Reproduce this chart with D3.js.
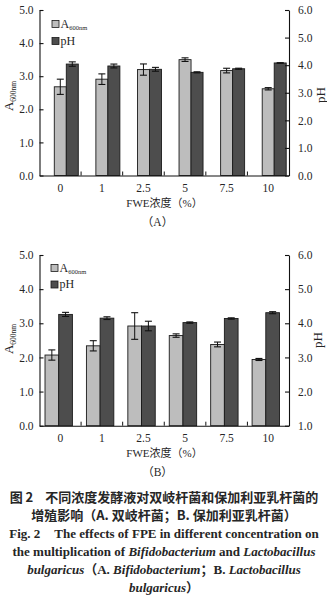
<!DOCTYPE html>
<html><head><meta charset="utf-8">
<script src="https://cdn.jsdelivr.net/npm/d3@7"></script>
<style>
html,body{margin:0;padding:0;background:#fff;}
svg{display:block;}
</style></head>
<body>
<svg id="chart" width="327" height="608"></svg>
<script>
// ---- data ----
const categories = ["0", "1", "2.5", "5", "7.5", "10"];
const a600A    = [2.68, 2.91, 3.20, 3.50, 3.17, 2.62];
const a600AErr = [0.23, 0.16, 0.17, 0.055, 0.07, 0.035];
const pHA      = [4.04, 3.97, 3.85, 3.74, 3.87, 4.08];
const pHAErr   = [0.08, 0.07, 0.07, 0.02, 0.02, 0.01];
const a600B    = [2.07, 2.34, 2.92, 2.64, 2.38, 1.94];
const a600BErr = [0.15, 0.15, 0.39, 0.05, 0.07, 0.03];
const pHB      = [4.26, 4.15, 3.92, 4.02, 4.14, 4.31];
const pHBErr   = [0.06, 0.04, 0.14, 0.02, 0.02, 0.03];
const leftTicks   = [0, 1, 2, 3, 4, 5];
const rightTicksA = [0, 1, 2, 3, 4, 5, 6];
const rightTicksB = [1, 2, 3, 4, 5, 6];
const xTitle = "FWE浓度（%）";
const captionCN1 = "不同浓度发酵液对双岐杆菌和保加利亚乳杆菌的";
const captionCN2 = "增殖影响（A. 双岐杆菌；B. 保加利亚乳杆菌）";

// ---- style ----
const LIGHT = "#bdbdbd", DARK = "#4d4d4d", INK = "#262626";
const SERIF = "'Liberation Serif','Times New Roman',serif";
const MIX = "'Liberation Serif','Noto Sans CJK SC',serif";
const CJK = "'Noto Sans CJK SC',sans-serif";

const svg = d3.select("#chart");

function panel(cfg) {
  const g = svg.append("g");
  const x = d3.scaleBand().domain(categories).range([cfg.left, cfg.right]).padding(0);
  const xb = d3.scaleBand().domain(categories).range(cfg.barRange).padding(0);
  const yL = d3.scaleLinear().domain([0, 5]).range([cfg.bottom, cfg.top]);
  const yR = d3.scaleLinear().domain(cfg.rightDomain).range([cfg.bottom, cfg.top]);
  const bw = cfg.barW;

  const data = categories.map((c, i) => ({c, a: cfg.a[i], ae: cfg.ae[i], p: cfg.p[i], pe: cfg.pe[i]}));

  // bars
  g.selectAll(".la").data(data).join("rect")
    .attr("x", d => xb(d.c) + xb.bandwidth()/2 + cfg.lightOff)
    .attr("y", d => yL(d.a)).attr("width", bw).attr("height", d => yL(0) - yL(d.a))
    .attr("fill", LIGHT).attr("stroke", "#1a1a1a").attr("stroke-width", 0.9);
  g.selectAll(".dp").data(data).join("rect")
    .attr("x", d => xb(d.c) + xb.bandwidth()/2 + cfg.lightOff + bw)
    .attr("y", d => yR(d.p)).attr("width", bw).attr("height", d => yR(cfg.rightDomain[0]) - yR(d.p))
    .attr("fill", DARK).attr("stroke", "#1a1a1a").attr("stroke-width", 0.9);

  // error bars
  function err(cx, y0, y1) {
    const cap = 3.5;
    g.append("line").attr("x1", cx).attr("x2", cx).attr("y1", y0).attr("y2", y1).attr("stroke", "#111").attr("stroke-width", 1);
    [y0, y1].forEach(yy => g.append("line").attr("x1", cx - cap).attr("x2", cx + cap).attr("y1", yy).attr("y2", yy).attr("stroke", "#111").attr("stroke-width", 1.1));
  }
  data.forEach(d => {
    const lx = xb(d.c) + xb.bandwidth()/2 + cfg.lightOff + bw/2;
    err(lx, yL(d.a + d.ae), yL(d.a - d.ae));
    err(lx + bw, yR(d.p + d.pe), yR(d.p - d.pe));
  });

  // left axis
  const axL = g.append("g").attr("transform", `translate(${cfg.left},0)`)
    .call(d3.axisLeft(yL).tickValues(leftTicks).tickFormat(d3.format(".1f")).tickSizeInner(-4).tickSizeOuter(0).tickPadding(6));
  // right axis
  const axR = g.append("g").attr("transform", `translate(${cfg.right},0)`)
    .call(d3.axisRight(yR).tickValues(cfg.rightTicks).tickFormat(d3.format(".1f")).tickSizeInner(-4).tickSizeOuter(0).tickPadding(9));
  // bottom axis (labels)
  const axB = g.append("g").attr("transform", `translate(0,${cfg.bottom})`)
    .call(d3.axisBottom(x).tickSize(0).tickPadding(8).tickSizeOuter(0));
  axB.selectAll(".tick line").remove();
  // boundary ticks
  categories.slice(1).forEach(c => {
    g.append("line").attr("x1", x(c)).attr("x2", x(c)).attr("y1", cfg.bottom).attr("y2", cfg.bottom - 4).attr("stroke", "#111");
  });
  [axL, axR, axB].forEach(a => {
    a.selectAll("path,line").attr("stroke", "#111").attr("stroke-width", 1.1);
    a.selectAll("text").attr("font-family", SERIF).attr("font-size", 11.5).attr("fill", INK);
  });

  // axis titles
  const lt = g.append("text").attr("transform", `translate(${cfg.ltX},${cfg.ltY}) rotate(-90)`)
    .attr("text-anchor", "middle").attr("font-family", SERIF).attr("fill", INK);
  lt.append("tspan").attr("font-size", 13).text("A");
  lt.append("tspan").attr("font-size", 7.5).attr("dy", 3).text("600nm");
  g.append("text").attr("transform", `translate(${cfg.rtX},${cfg.rtY}) rotate(-90)`)
    .attr("text-anchor", "middle").attr("font-family", SERIF).attr("font-size", 13).attr("fill", INK).text("pH");

  g.append("text").attr("x", 164.5).attr("y", cfg.bottom + 31).attr("text-anchor", "middle")
    .attr("font-family", MIX).attr("font-size", 11).attr("fill", INK).text(xTitle);
  g.append("text").attr("x", 157.5).attr("y", cfg.bottom + 50).attr("text-anchor", "middle")
    .attr("font-family", MIX).attr("font-size", 11.5).attr("fill", INK).text(cfg.tag);

  // legend
  const lg = g.append("g").attr("transform", `translate(${cfg.legX},${cfg.legY})`);
  [[LIGHT, "A", "600nm"], [DARK, "pH", ""]].forEach((it, i) => {
    lg.append("rect").attr("x", 0).attr("y", i * cfg.legGap).attr("width", 7).attr("height", 7)
      .attr("fill", it[0]).attr("stroke", "#1a1a1a").attr("stroke-width", 0.8);
    const t = lg.append("text").attr("x", 8.5).attr("y", i * cfg.legGap + 7).attr("font-family", SERIF).attr("fill", INK);
    t.append("tspan").attr("font-size", 12).text(it[1]);
    if (it[2]) t.append("tspan").attr("font-size", 6.5).attr("dy", 2).text(it[2]);
  });
}

panel({top: 10, bottom: 175.5, left: 39.5, right: 289, barRange: [39.5, 289], barW: 12, lightOff: -6,
  rightDomain: [0, 6], rightTicks: rightTicksA, a: a600A, ae: a600AErr, p: pHA, pe: pHAErr,
  ltX: 13, ltY: 96, rtX: 325, rtY: 95, legX: 52, legY: 20.5, legGap: 17, tag: "（A）"});
panel({top: 255, bottom: 425.7, left: 39.5, right: 289, barRange: [38, 286.5], barW: 13.7, lightOff: -13.7,
  rightDomain: [1, 6], rightTicks: rightTicksB, a: a600B, ae: a600BErr, p: pHB, pe: pHBErr,
  ltX: 13, ltY: 339, rtX: 322, rtY: 340, legX: 51, legY: 264.5, legGap: 16.5, tag: "（B）"});

// ---- caption ----
const cap = svg.append("g").attr("fill", INK).attr("font-weight", "bold");
const c1 = cap.append("text").attr("x", 164).attr("y", 502).attr("text-anchor", "middle").attr("font-family", CJK).attr("font-size", 13);
c1.append("tspan").text("图 2");
c1.append("tspan").attr("dx", 12).text(captionCN1);
cap.append("text").attr("x", 164).attr("y", 520).attr("text-anchor", "middle").attr("font-family", CJK).attr("font-size", 13).text(captionCN2);

function richLine(y, parts) {
  const t = cap.append("text").attr("x", 164).attr("y", y).attr("text-anchor", "middle").attr("font-family", MIX).attr("font-size", 13);
  parts.forEach(p => {
    const s = t.append("tspan").text(p[0]);
    if (p[1]) s.attr("font-style", "italic");
    if (p[2]) s.attr("dx", p[2]);
  });
}
richLine(538, [["Fig. 2"], ["The effects of FPE in different concentration on", false, 14]]);
richLine(556, [["the multiplication of "], ["Bifidobacterium", true], [" and "], ["Lactobacillus", true]]);
richLine(574, [["bulgaricus", true], ["（A. "], ["Bifidobacterium", true], ["；B. "], ["Lactobacillus", true]]);
richLine(592, [["bulgaricus", true], ["）"]]);
</script>
</body></html>
